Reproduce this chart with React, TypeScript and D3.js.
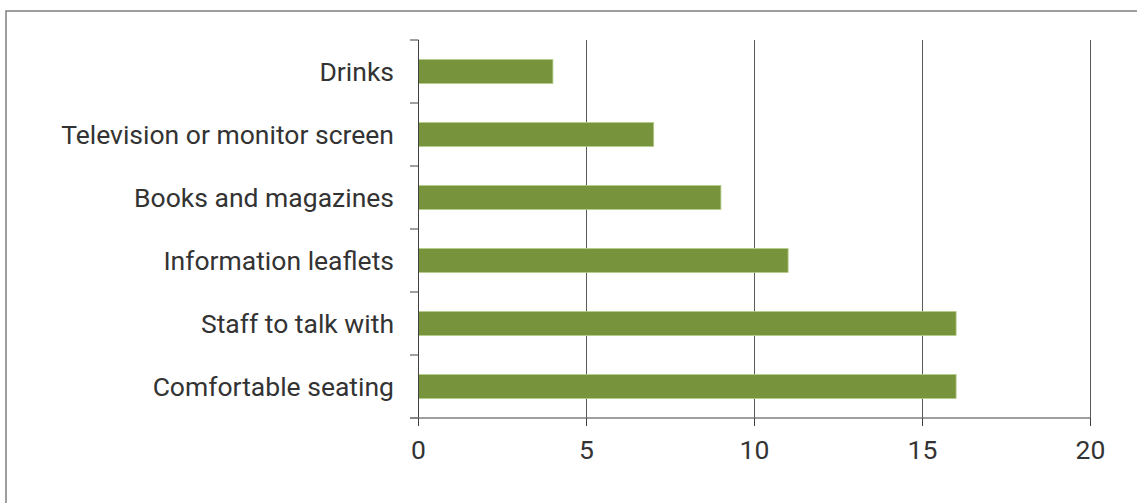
import React from "react";
import * as d3 from "d3";

const categories = [
  "Drinks",
  "Television or monitor screen",
  "Books and magazines",
  "Information leaflets",
  "Staff to talk with",
  "Comfortable seating",
];
const values = [4, 7, 9, 11, 16, 16];
const xTicks = [0, 5, 10, 15, 20];

const W = 1137;
const H = 503;
const FONT = "Roboto, 'Liberation Sans', sans-serif";

export default function App() {
  const x = d3.scaleLinear().domain([0, 20]).range([418.5, 1090.5]);
  const y = d3
    .scaleBand<string>()
    .domain(categories)
    .range([40, 418])
    .paddingInner(0.62)
    .paddingOuter(0.31);
  const step = y.step();
  const y0 = 40;
  const yBottom = 418;
  const boundaries = d3.range(categories.length + 1).map((i) => y0 + i * step);

  return (
    <svg
      width={W}
      height={H}
      style={{ position: "absolute", left: 0, top: 0, background: "#fff" }}
    >
      <rect x={6} y={11} width={1200} height={600} fill="none" stroke="#7f7f7f" strokeWidth={1.5} />
      {xTicks.slice(1).map((t) => (
        <line key={"g" + t} x1={x(t)} x2={x(t)} y1={y0} y2={yBottom} stroke="#595959" strokeWidth={1} />
      ))}
      {categories.map((c, i) => (
        <rect
          key={c}
          x={x(0)}
          y={y(c)!}
          width={x(values[i]) - x(0)}
          height={y.bandwidth()}
          fill="#77933c"
          stroke="#b3cc88"
          strokeWidth={0.8}
        />
      ))}
      <line x1={x(0)} x2={x(0)} y1={y0} y2={yBottom} stroke="#404040" strokeWidth={1} />
      {boundaries.map((b, i) => (
        <line key={"t" + i} x1={410} x2={x(0)} y1={b} y2={b} stroke="#404040" strokeWidth={1} />
      ))}
      <line x1={410} x2={x(20)} y1={yBottom} y2={yBottom} stroke="#7f7f7f" strokeWidth={1.5} />
      {xTicks.map((t) => (
        <g key={"x" + t}>
          <line x1={x(t)} x2={x(t)} y1={yBottom} y2={426} stroke="#404040" strokeWidth={1} />
          <text
            x={x(t)}
            y={459}
            textAnchor="middle"
            fontFamily={FONT}
            fontSize={26.5}
            fill="#333"
          >
            {t}
          </text>
        </g>
      ))}
      {categories.map((c) => (
        <text
          key={"l" + c}
          x={394}
          y={y(c)! + y.bandwidth() / 2 + 9.5}
          textAnchor="end"
          fontFamily={FONT}
          fontSize={26.5}
          fill="#333"
        >
          {c}
        </text>
      ))}
    </svg>
  );
}
